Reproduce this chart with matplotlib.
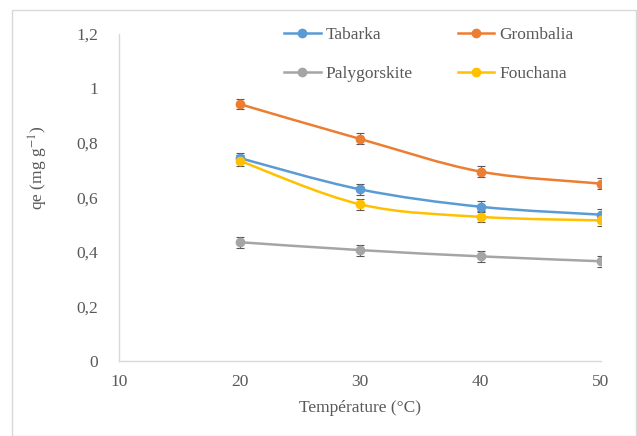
import matplotlib.pyplot as plt
from matplotlib.path import Path
from matplotlib.patches import PathPatch, Rectangle
from matplotlib.lines import Line2D

# Data
temps = [20, 30, 40, 50]
tabarka = [0.745, 0.630, 0.566, 0.537]
grombalia = [0.943, 0.815, 0.695, 0.651]
palygorskite = [0.436, 0.407, 0.384, 0.366]
fouchana = [0.735, 0.575, 0.529, 0.516]
err = 0.02

series = [
    ("Tabarka", tabarka, "#5B9BD5"),
    ("Grombalia", grombalia, "#ED7D31"),
    ("Palygorskite", palygorskite, "#A5A5A5"),
    ("Fouchana", fouchana, "#FFC000"),
]

TEXT = "#595959"
AXIS = "#D9D9D9"
FS = 12.5
plt.rcParams['font.family'] = ['Liberation Serif', 'DejaVu Serif']
plt.rcParams['mathtext.fontset'] = 'stix'


def smooth_path(x, y, t=1 / 6):
    # Excel-like smoothed line: cubic Bezier segments through the points
    verts = [(x[0], y[0])]
    codes = [Path.MOVETO]
    n = len(x)
    for i in range(n - 1):
        x0, y0 = (x[i - 1], y[i - 1]) if i > 0 else (x[i], y[i])
        x3, y3 = (x[i + 2], y[i + 2]) if i + 2 < n else (x[i + 1], y[i + 1])
        c1 = (x[i] + (x[i + 1] - x0) * t, y[i] + (y[i + 1] - y0) * t)
        c2 = (x[i + 1] - (x3 - x[i]) * t, y[i + 1] - (y3 - y[i]) * t)
        verts += [c1, c2, (x[i + 1], y[i + 1])]
        codes += [Path.CURVE4] * 3
    return Path(verts, codes)


fig = plt.figure(figsize=(6.37, 4.36), dpi=100)
fig.patches.append(Rectangle((12 / 637, 0), 624 / 637, 1 - 10 / 436,
                             transform=fig.transFigure, fill=False,
                             edgecolor=AXIS, linewidth=1))
ax = fig.add_axes([119 / 637, 1 - 361 / 436, 482 / 637, 327 / 436])

for name, vals, col in series:
    ax.add_patch(PathPatch(smooth_path(temps, vals), facecolor="none",
                           edgecolor=col, linewidth=1.8, zorder=2))
    ax.errorbar(temps, vals, yerr=err, fmt="none", ecolor="#595959",
                elinewidth=0.8, capsize=3, capthick=0.8, zorder=3)
    ax.plot(temps, vals, "o", color=col, markersize=6, zorder=4)

ax.set_xlim(10, 50)
ax.set_ylim(0, 1.2)
ax.set_xticks([10, 20, 30, 40, 50])
ax.set_yticks([0, 0.2, 0.4, 0.6, 0.8, 1.0, 1.2])
ax.set_yticklabels(["0", "0,2", "0,4", "0,6", "0,8", "1", "1,2"])
ax.tick_params(length=0, labelsize=FS, labelcolor=TEXT)
ax.tick_params(axis="y", pad=15)
ax.tick_params(axis="x", pad=9)
for s in ["top", "right"]:
    ax.spines[s].set_visible(False)
for s in ["left", "bottom"]:
    ax.spines[s].set_color(AXIS)
    ax.spines[s].set_linewidth(1)

fig.text(360 / 637, 1 - 408 / 436, "Température (°C)", ha="center",
         va="center", fontsize=FS, color=TEXT)
fig.text(38 / 637, 1 - 168 / 436, "qe (mg g$^{-1}$)", ha="center",
         va="center", rotation=90, fontsize=FS, color=TEXT)

# legend filled column-wise, so reorder to get Tabarka/Grombalia on row 1
order = [0, 2, 1, 3]
handles = [Line2D([], [], color=series[i][2], linewidth=1.8, marker="o",
                  markersize=6) for i in order]
labels = [series[i][0] for i in order]
ax.legend(handles, labels, ncol=2, frameon=False,
          loc="upper left", bbox_to_anchor=(0.31, 1.07), fontsize=FS,
          labelcolor=TEXT, handlelength=2.1, handletextpad=0.3,
          columnspacing=2.6, labelspacing=1.33)

fig.savefig("out.png", dpi=100)
